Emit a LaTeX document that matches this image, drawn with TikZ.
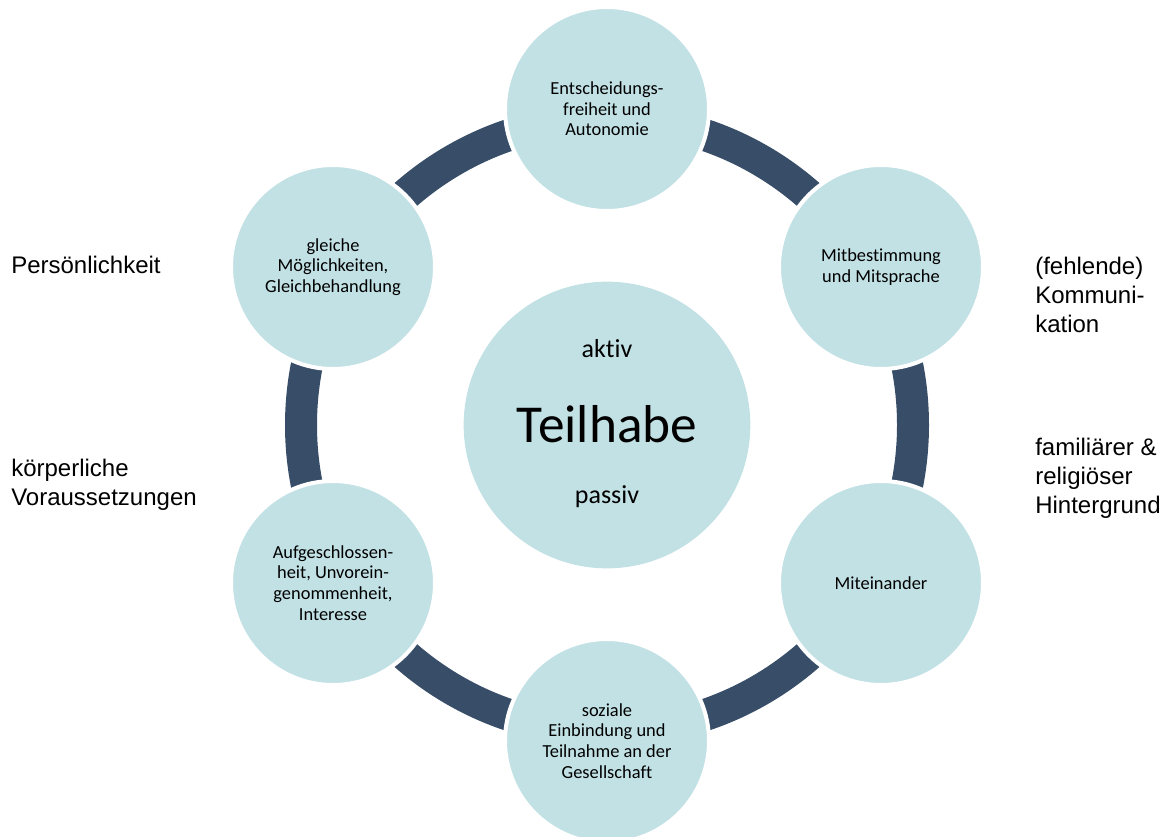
\documentclass[tikz,border=0pt]{standalone}
\usepackage{fontspec}
\setmainfont{Liberation Sans}
\newfontfamily\carlito[Ligatures=NoCommon]{Carlito}
\usepackage{xcolor}
\definecolor{Col1}{RGB}{194,225,229}
\definecolor{Col2}{RGB}{55,77,104}
\usepackage{tikz}
\tikzstyle{Node}=[circle,fill=Col1,draw=white,line width=3pt,inner sep=0pt,
minimum size=153pt,align=center,font=\carlito\fontsize{13.8}{15.5}\selectfont]
\tikzstyle{Centre}=[circle,fill=Col1,inner sep=0pt,minimum size=215pt]
\tikzstyle{Ring}=[draw=Col2,line width=24pt]
\tikzstyle{NodeST}=[anchor=base,inner sep=0pt,
font=\carlito\fontsize{19.5}{22}\selectfont]
\tikzstyle{Side}=[align=left,anchor=base west,inner sep=0pt,
font=\fontsize{18}{21.4}\selectfont]

\begin{document}
\begin{tikzpicture}[x=0.75pt,y=-0.75pt]
        \useasboundingbox(0,0)rectangle(1171,836);
        \node[Centre](c)at(607,425){};
        \draw[Ring](c.center)circle[radius=306];
        \node[Node](1)at(607,109){Entscheidungs-\\freiheit und\\Autonomie};
        \node[Node](2)at(881,267){Mitbestimmung\\und Mitsprache};
        \node[Node](3)at(881,583){Miteinander};
        \node[Node](4)at(607,741){soziale\\Einbindung und\\Teilnahme an der\\Gesellschaft};
        \node[Node](5)at(333,583){Aufgeschlossen-\\heit, Unvorein-\\genommenheit,\\Interesse};
        \node[Node](6)at(333,267){gleiche\\Möglichkeiten,\\Gleichbehandlung};
        \node[NodeST](a)at(607,357){aktiv};
        \node[NodeST,font=\carlito\fontsize{40}{44}\selectfont](t)at(607,442){Teilhabe};
        \node[NodeST](p)at(607,503){passiv};
        \node[Side](s1)at(11,273){Persönlichkeit};
        \node[Side](s2)at(11,505){körperliche\\Voraussetzungen};
        \node[Side](s3)at(1035,332){(fehlende)\\Kommuni-\\kation};
        \node[Side](s4)at(1035,513){familiärer \&\\religiöser\\Hintergrund};
    \end{tikzpicture}
\end{document}
